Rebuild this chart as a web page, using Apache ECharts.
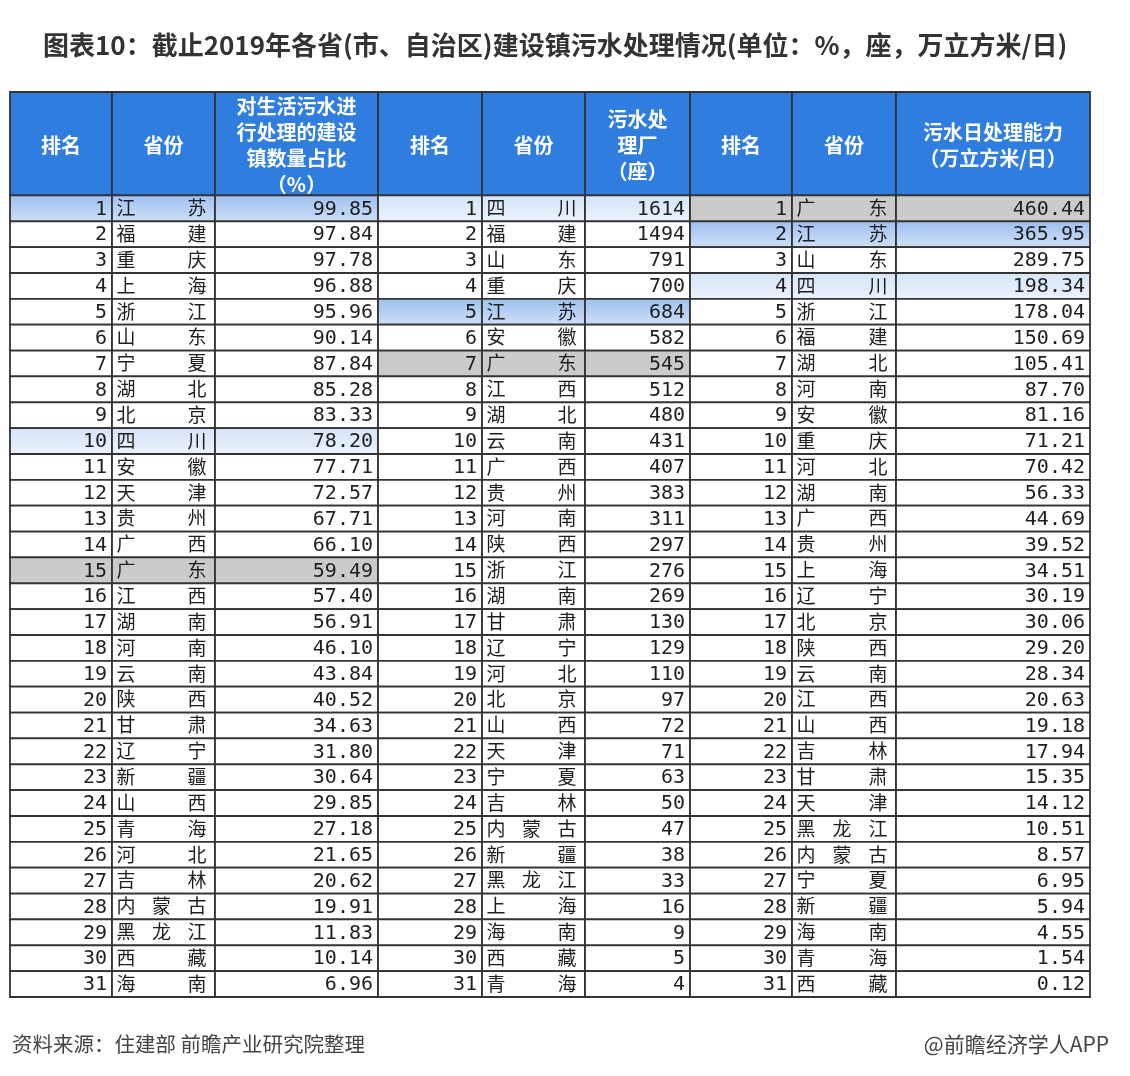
<!DOCTYPE html>
<html>
<head>
<meta charset="utf-8">
<script src="https://cdn.jsdelivr.net/npm/echarts@6/dist/echarts.min.js"></script>
<style>
html,body{margin:0;padding:0;background:#fff;}
#chart{width:1130px;height:1076px;}
</style>
</head>
<body>
<div id="chart"></div>
<script>
// ---------- data ----------
const TITLE = '图表10：截止2019年各省(市、自治区)建设镇污水处理情况(单位：%，座，万立方米/日)';
const SOURCE = '资料来源：住建部 前瞻产业研究院整理';
const CREDIT = '@前瞻经济学人APP';
const HEADERS = ['排名', '省份', '对生活污水进\n行处理的建设\n镇数量占比\n（%）',
                 '排名', '省份', '污水处\n理厂\n（座）',
                 '排名', '省份', '污水日处理能力\n（万立方米/日）'];
const RANKS = [1,2,3,4,5,6,7,8,9,10,11,12,13,14,15,16,17,18,19,20,21,22,23,24,25,26,27,28,29,30,31];

const SHARE_PROVINCES = ['江苏','福建','重庆','上海','浙江','山东','宁夏','湖北','北京','四川','安徽','天津','贵州','广西','广东','江西','湖南','河南','云南','陕西','甘肃','辽宁','新疆','山西','青海','河北','吉林','内蒙古','黑龙江','西藏','海南'];
const SHARE_VALUES = [99.85,97.84,97.78,96.88,95.96,90.14,87.84,85.28,83.33,78.20,77.71,72.57,67.71,66.10,59.49,57.40,56.91,46.10,43.84,40.52,34.63,31.80,30.64,29.85,27.18,21.65,20.62,19.91,11.83,10.14,6.96];

const PLANT_PROVINCES = ['四川','福建','山东','重庆','江苏','安徽','广东','江西','湖北','云南','广西','贵州','河南','陕西','浙江','湖南','甘肃','辽宁','河北','北京','山西','天津','宁夏','吉林','内蒙古','新疆','黑龙江','上海','海南','西藏','青海'];
const PLANT_VALUES = [1614,1494,791,700,684,582,545,512,480,431,407,383,311,297,276,269,130,129,110,97,72,71,63,50,47,38,33,16,9,5,4];

const CAPACITY_PROVINCES = ['广东','江苏','山东','四川','浙江','福建','湖北','河南','安徽','重庆','河北','湖南','广西','贵州','上海','辽宁','北京','陕西','云南','江西','山西','吉林','甘肃','天津','黑龙江','内蒙古','宁夏','新疆','海南','青海','西藏'];
const CAPACITY_VALUES = [460.44,365.95,289.75,198.34,178.04,150.69,105.41,87.70,81.16,71.21,70.42,56.33,44.69,39.52,34.51,30.19,30.06,29.20,28.34,20.63,19.18,17.94,15.35,14.12,10.51,8.57,6.95,5.94,4.55,1.54,0.12];

// ---------- layout / style ----------
const COL_WIDTHS = [102, 103, 163, 104, 103, 105, 102, 104, 194];
const HEADER_UNITS = 4;
const EDGES = [0];
COL_WIDTHS.forEach(w => EDGES.push(EDGES[EDGES.length - 1] + w));
const TOTAL_W = EDGES[EDGES.length - 1];
const TOTAL_ROWS = HEADER_UNITS + RANKS.length;

const HEADER_BG = '#2f7ddf';
const BORDER = '#333333';
const CJK = '"Noto Sans CJK SC", "Noto Sans", sans-serif';
const MONO = '"DejaVu Sans Mono", monospace';
const HIGHLIGHT = {
  '江苏': new echarts.graphic.LinearGradient(0, 0, 0, 1, [{offset: 0, color: '#9dbfee'}, {offset: 1, color: '#cfe0f7'}]),
  '四川': new echarts.graphic.LinearGradient(0, 0, 0, 1, [{offset: 0, color: '#d5e4f8'}, {offset: 1, color: '#ebf2fc'}]),
  '广东': '#cbcbcb'
};

const TABLES = [
  {provinces: SHARE_PROVINCES, values: SHARE_VALUES, fmt: v => v.toFixed(2)},
  {provinces: PLANT_PROVINCES, values: PLANT_VALUES, fmt: v => String(v)},
  {provinces: CAPACITY_PROVINCES, values: CAPACITY_VALUES, fmt: v => v.toFixed(2)}
];

const cells = [];
TABLES.forEach((t, ti) => {
  const base = ti * 3;
  for (let k = 0; k < 3; k++) {
    cells.push({col: base + k, row: 0, h: HEADER_UNITS, kind: 'head', text: HEADERS[base + k]});
  }
  t.provinces.forEach((p, i) => {
    const fill = HIGHLIGHT[p] || '#ffffff';
    const row = HEADER_UNITS + i;
    cells.push({col: base, row, h: 1, kind: 'rank', text: String(RANKS[i]), fill});
    cells.push({col: base + 1, row, h: 1, kind: 'prov', text: p, fill});
    cells.push({col: base + 2, row, h: 1, kind: 'num', text: t.fmt(t.values[i]), fill});
  });
});

function renderCell(params, api) {
  const c = cells[params.dataIndex];
  const p0 = api.coord([api.value(0), api.value(1)]);
  const p1 = api.coord([api.value(2), api.value(3)]);
  const x = p0[0], y = p0[1], w = p1[0] - p0[0], h = p1[1] - p0[1];
  const children = [{
    type: 'rect',
    shape: {x, y, width: w, height: h},
    style: {fill: c.kind === 'head' ? HEADER_BG : c.fill, stroke: BORDER, lineWidth: 1.8}
  }];
  const cy = y + h / 2 + 1;
  if (c.kind === 'head') {
    children.push({type: 'text', style: {
      text: c.text, x: x + w / 2, y: y + h / 2 + 2, align: 'center', verticalAlign: 'middle',
      fontFamily: CJK, fontSize: 20, fontWeight: 'bold', fill: '#ffffff', lineHeight: 26
    }});
  } else if (c.kind === 'rank' || c.kind === 'num') {
    children.push({type: 'text', style: {
      text: c.text, x: x + w - 5, y: cy, align: 'right', verticalAlign: 'middle',
      fontFamily: MONO, fontSize: 20, fill: '#1e1e1e'
    }});
  } else {
    const chars = Array.from(c.text);
    const first = x + 14, last = x + w - 18;
    chars.forEach((ch, j) => {
      const cx = chars.length === 1 ? (first + last) / 2 : first + (last - first) * j / (chars.length - 1);
      children.push({type: 'text', style: {
        text: ch, x: cx, y: cy - 1.5, align: 'center', verticalAlign: 'middle',
        fontFamily: CJK, fontSize: 19, fill: '#1e1e1e'
      }});
    });
  }
  return {type: 'group', children};
}

const chart = echarts.init(document.getElementById('chart'), null, {renderer: 'canvas'});
chart.setOption({
  backgroundColor: '#ffffff',
  animation: false,
  title: [
    {text: TITLE, left: 38, top: 27, textStyle: {fontFamily: CJK, fontSize: 26, fontWeight: 'bold', color: '#333333'}},
    {text: SOURCE, left: 7, top: 1029, textStyle: {fontFamily: CJK, fontSize: 20.5, fontWeight: 'normal', color: '#444444'}},
    {text: CREDIT, right: 16, top: 1029, textStyle: {fontFamily: CJK, fontSize: 21, fontWeight: 'normal', color: '#444444'}}
  ],
  grid: {left: 10, top: 92, width: TOTAL_W, height: 905},
  xAxis: {type: 'value', min: 0, max: TOTAL_W, show: false},
  yAxis: {type: 'value', min: 0, max: TOTAL_ROWS, inverse: true, show: false},
  series: [{
    type: 'custom',
    renderItem: renderCell,
    encode: {x: [0, 2], y: [1, 3]},
    data: cells.map(c => [EDGES[c.col], c.row, EDGES[c.col + 1], c.row + c.h]),
    silent: true
  }]
});
</script>
</body>
</html>
